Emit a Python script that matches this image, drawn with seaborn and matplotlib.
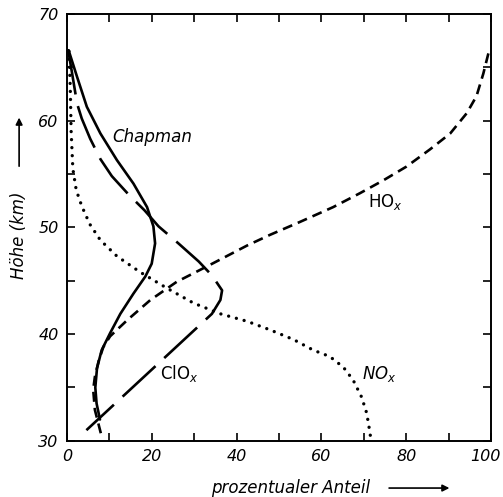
import numpy as np
import pandas as pd
import matplotlib
matplotlib.use("Agg")
import matplotlib.pyplot as plt
from matplotlib.ticker import MultipleLocator, FuncFormatter
import seaborn as sns

# Data
chapman_y = [66.6, 64.1, 61.3, 58.8, 56.3, 54.1, 51.9, 50.1, 48.5, 46.6, 45.4, 43.8, 41.9, 40.1, 38.5, 36.8, 35.0, 33.5, 32.0]
chapman_x = [0.4, 2.4, 4.7, 7.9, 11.8, 15.7, 18.9, 20.4, 20.8, 20.0, 18.5, 15.7, 12.6, 10.2, 8.2, 7.1, 6.7, 7.0, 7.8]

hox_y = [66.3, 64.4, 62.3, 60.7, 58.8, 57.3, 55.7, 54.4, 53.2, 51.9, 50.5, 49.3, 48.3,
         46.5, 44.9, 43.2, 41.3, 39.8, 38.8, 37.5, 36.0, 34.8, 32.9, 30.4]
hox_x = [99.4, 98.2, 96.6, 94.3, 90.4, 85.6, 80.1, 74.6, 69.1, 62.8, 54.9, 47.9, 42.5,
         33.8, 25.9, 19.7, 14.2, 10.2, 8.6, 7.5, 6.6, 6.2, 6.6, 8.2]

clox_y = [66.6, 64.5, 61.6, 60.2, 58.3, 56.4, 54.8, 53.1, 51.6, 50.1, 48.5, 46.8, 45.5, 44.1, 43.2, 41.9, 31.0]
clox_x = [0.3, 1.2, 2.4, 3.5, 5.5, 7.9, 10.6, 14.5, 18.3, 21.6, 26.3, 31.1, 34.2, 36.6, 36.2, 34.2, 4.6]

nox_y = [66.5, 63.0, 59.0, 55.5, 53.5, 52.0, 50.3, 48.8, 47.3, 45.8, 44.3, 42.9, 41.9, 41.2,
         40.4, 39.5, 38.5, 37.9, 36.9, 35.7, 34.1, 32.6, 30.7, 30.0]
nox_x = [0.5, 0.8, 1.0, 1.4, 2.2, 3.5, 5.4, 7.9, 11.8, 17.3, 23.6, 29.9, 36.2, 42.5,
         47.9, 53.4, 58.1, 62.0, 65.2, 67.5, 69.5, 70.7, 71.5, 71.7]

sns.set_style("ticks")
plt.rcParams["font.family"] = ["DejaVu Sans"]
plt.rcParams["text.color"] = "black"
plt.rcParams["xtick.color"] = "black"
plt.rcParams["ytick.color"] = "black"
plt.rcParams["axes.edgecolor"] = "black"

fig = plt.figure(figsize=(5.03, 4.97), dpi=100)
ax = fig.add_axes([0.133, 0.113, 0.843, 0.859])

lw = 1.9
sns.lineplot(x=chapman_x, y=chapman_y, sort=False, estimator=None, color="black",
             lw=lw, ax=ax)
sns.lineplot(x=hox_x, y=hox_y, sort=False, estimator=None, color="black",
             lw=lw, ax=ax).lines[-1].set_dashes([3.8, 2.3])
sns.lineplot(x=clox_x, y=clox_y, sort=False, estimator=None, color="black",
             lw=lw, ax=ax).lines[-1].set_dashes([17, 4.5])
line = sns.lineplot(x=nox_x, y=nox_y, sort=False, estimator=None, color="black",
                    lw=2.4, ax=ax).lines[-1]
line.set_dashes([0.01, 2.4])
line.set_dash_capstyle("round")

ax.set_xlim(0, 100)
ax.set_ylim(30, 70)
ax.xaxis.set_major_locator(MultipleLocator(20))
ax.xaxis.set_minor_locator(MultipleLocator(10))
ax.yaxis.set_major_locator(MultipleLocator(10))
ax.yaxis.set_minor_locator(MultipleLocator(5))
# "100" is drawn separately, shifted left a little so it stays inside the picture
ax.xaxis.set_major_formatter(FuncFormatter(lambda v, p: "" if v >= 100 else f"{v:.0f}"))
ax.tick_params(which="both", direction="in", length=6, width=1.2,
               top=True, right=True, labelsize=11.5, pad=6)
for s in ax.spines.values():
    s.set_linewidth(1.4)
for lab in ax.get_xticklabels() + ax.get_yticklabels():
    lab.set_fontstyle("italic")
ax.annotate("100", xy=(100, 30), xytext=(-4, -6), textcoords="offset points",
            ha="center", va="top", fontsize=11.5, style="italic")

# curve labels
ax.text(10.6, 58.5, "Chapman", fontsize=12, style="italic", va="center")
ax.text(71, 52.4, "HO$_x$", fontsize=12, va="center")
ax.text(22, 36.3, "ClO$_x$", fontsize=12, va="center")
ax.text(69.5, 36.3, "NO$_x$", fontsize=12, style="italic", va="center")

# axis titles with arrows
fig.text(0.577, 0.018, "prozentualer Anteil", fontsize=12, style="italic",
         ha="center", va="center")
ax.annotate("", xy=(0.899, 0.018), xytext=(0.768, 0.018), xycoords="figure fraction",
            arrowprops=dict(arrowstyle="-|>", color="black", lw=1.2, mutation_scale=10))
fig.text(0.038, 0.527, "Höhe (km)", fontsize=12, style="italic", rotation=90,
         ha="center", va="center")
ax.annotate("", xy=(0.038, 0.769), xytext=(0.038, 0.660), xycoords="figure fraction",
            arrowprops=dict(arrowstyle="-|>", color="black", lw=1.2, mutation_scale=10))

fig.savefig("out.png", dpi=100)
